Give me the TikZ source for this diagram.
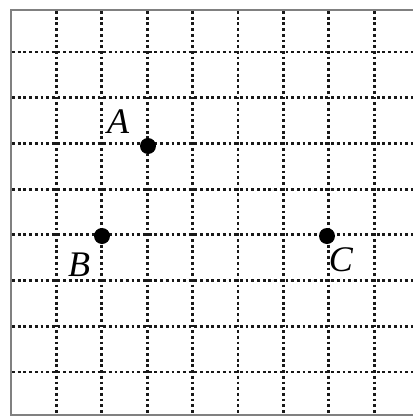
\documentclass[tikz,border=0pt]{standalone}
\usepackage{fontspec}
\setmainfont{Liberation Serif}
\begin{document}
\begin{tikzpicture}[x=1pt,y=-1pt,
  gridline/.style={black!90, line width=2.8pt, dash pattern=on 2.8pt off 2.9pt},
  frameline/.style={black!50, line width=2pt},
  ptdot/.style={circle, fill=black, inner sep=0pt, minimum size=16pt},
  ptlabel/.style={font=\fontsize{36}{36}\selectfont\itshape, inner sep=0pt}]
\useasboundingbox (0,0) rectangle (413,416);
\fill[white] (0,0) rectangle (413,416);
% vertical grid lines
\foreach \x in {56.4,101.8,147.2,192.6,238,283.4,328.8,374.2}
  \draw[gridline] (\x,11) -- (\x,414);
% horizontal grid lines
\foreach \y in {52,97.7,143.4,189.1,234.8,280.5,326.2,371.9}
  \draw[gridline] (12,\y) -- (413,\y);
% frame
\draw[frameline] (413,10) -- (11,10) -- (11,415) -- (413,415);
% points
\node[ptdot] (a) at (148,146) {};
\node[ptdot] (b) at (102,236) {};
\node[ptdot] (c) at (327,236) {};
\node[ptlabel] (la) at (118,122) {A};
\node[ptlabel] (lb) at (79,265) {B};
\node[ptlabel] (lc) at (341,260) {C};
\end{tikzpicture}
\end{document}
